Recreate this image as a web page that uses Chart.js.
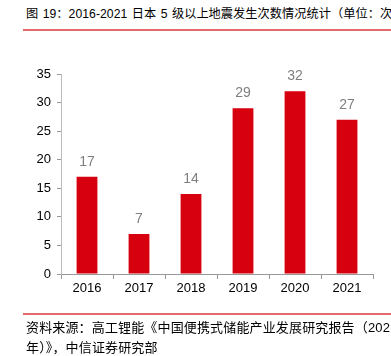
<!DOCTYPE html>
<html><head><meta charset="utf-8">
<script src="https://cdn.jsdelivr.net/npm/chart.js@4"></script>
<style>
html,body{margin:0;padding:0;background:#fff;width:391px;height:356px;overflow:hidden;}
body{position:relative;font-family:"Liberation Sans","Noto Sans CJK SC",sans-serif;color:#000;}
.t{position:absolute;left:26px;white-space:nowrap;font-size:13px;line-height:16px;}
.rule{position:absolute;left:23px;right:0;height:2px;background:#e46a6e;}
#c{position:absolute;left:0;top:0;}
</style></head>
<body>
<div class="t" style="top:6px;font-size:12.2px;letter-spacing:0.05px;word-spacing:1px">图 19：2016-2021 日本 5 级以上地震发生次数情况统计（单位：次）</div>
<div class="rule" style="top:29px"></div>
<canvas id="c" width="391" height="356"></canvas>
<div class="rule" style="top:313px"></div>
<div class="t" style="top:320px;letter-spacing:0.15px">资料来源：高工锂能《中国便携式储能产业发展研究报告（2021年）》，中信证券研究部</div>
<div class="t" style="top:340px;letter-spacing:0.15px">年）》，中信证券研究部</div>
<script>
const categories = ["2016","2017","2018","2019","2020","2021"];
const earthquakeCounts = [17, 7, 14, 29, 32, 27];
const yTicks = [0,5,10,15,20,25,30,35];

const labelPlugin = {
  id:'labels',
  afterDatasetsDraw(chart){
    const ctx = chart.ctx;
    const meta = chart.getDatasetMeta(0);
    ctx.save();
    ctx.font = '14px "Liberation Sans", sans-serif';
    ctx.fillStyle = '#7f7f7f';
    ctx.textAlign = 'center';
    ctx.textBaseline = 'bottom';
    meta.data.forEach((bar,i)=>{
      ctx.fillText(String(earthquakeCounts[i]), bar.x, bar.y - 8);
    });
    ctx.restore();
  }
};

new Chart(document.getElementById('c'), {
  type:'bar',
  data:{labels:categories, datasets:[{data:earthquakeCounts, backgroundColor:'#d7000f', borderWidth:0, categoryPercentage:1, barPercentage:0.4}]},
  options:{
    responsive:false, animation:false,
    layout:{padding:{left:0,top:74,right:18,bottom:52}},
    plugins:{legend:{display:false}, tooltip:{enabled:false}},
    scales:{
      x:{
        grid:{display:true, drawOnChartArea:false, offset:true, color:'#999', tickLength:5},
        border:{display:true,color:'#999',width:1},
        ticks:{color:'#000', font:{family:'"Liberation Sans", sans-serif', size:13}, padding:2},
        afterFit(s){ s.height = 30; }
      },
      y:{
        min:0,max:35,
        afterBuildTicks(s){ s.ticks = yTicks.map(v=>({value:v})); },
        grid:{display:true, drawOnChartArea:false, color:'#999', tickLength:4},
        border:{display:true,color:'#bbb',width:1},
        ticks:{color:'#000', font:{family:'"Liberation Sans", sans-serif', size:13}, padding:6},
        afterFit(s){ s.width = 61; }
      }
    }
  },
  plugins:[labelPlugin]
});
</script>
</body></html>
